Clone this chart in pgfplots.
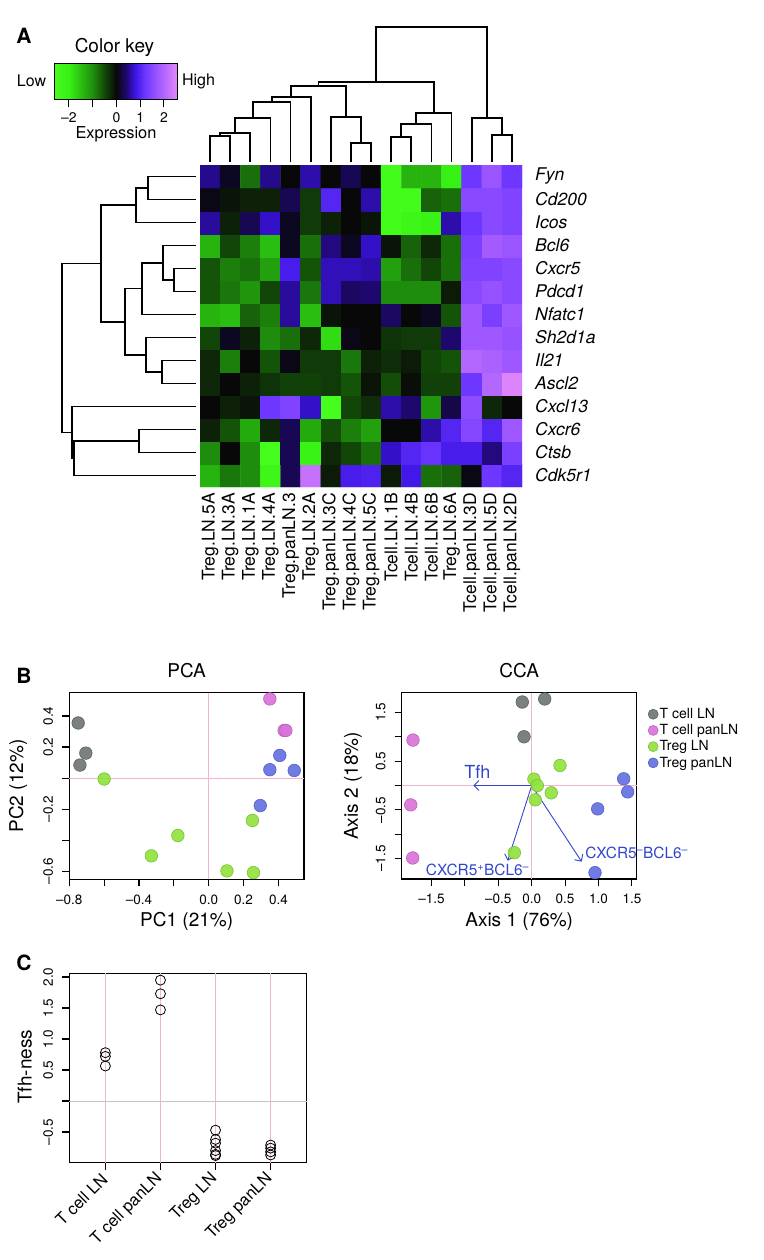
\documentclass[border=0pt]{standalone}
\usepackage{pgfplots}
\pgfplotsset{compat=1.18}
\usetikzlibrary{arrows.meta}
\usepackage{fontspec}
\setmainfont{TeX Gyre Heros}
\newcommand\fsz[1]{\fontsize{#1}{#1}\selectfont}

\definecolor{cgray}{RGB}{112,118,116}
\definecolor{cpink}{RGB}{218,115,218}
\definecolor{cgreen}{RGB}{145,226,62}
\definecolor{cblue}{RGB}{100,112,226}
\definecolor{arrowblue}{RGB}{50,70,205}
\definecolor{refpink}{RGB}{242,180,212}
\definecolor{refgray}{RGB}{190,200,200}

\pgfplotsset{
  colormap={gkp}{rgb255(0pt)=(70,255,30) rgb255(6.3pt)=(55,240,20) rgb255(16.3pt)=(30,140,12) rgb255(21.3pt)=(18,70,8) rgb255(26.3pt)=(8,8,8) rgb255(30.3pt)=(30,8,110) rgb255(34.3pt)=(60,20,230) rgb255(38.3pt)=(110,55,255) rgb255(43.3pt)=(155,85,255) rgb255(51.8pt)=(225,135,250)},
  rplot/.style={scale only axis, anchor=north west, tick align=outside,
    major tick length=7pt, xtick pos=left, ytick pos=left,
    axis line style={line width=1.1pt}, tick style={line width=1.1pt, black},
    tick label style={font={\fsz{13.5}}, inner sep=0pt},
    xticklabel shift=8pt, yticklabel shift=9pt,
    yticklabel style={rotate=90, anchor=south},
    label style={font={\fsz{19}}},
    title style={font={\fsz{19}}, anchor=center},
    /pgf/number format/assume math mode=true, clip=false},
  dots/.style={only marks, mark=*, mark size=6.3pt, mark options={fill=#1, draw=#1!85!black, fill opacity=0.92, line width=0.6pt}},
}

\begin{document}
\begin{tikzpicture}
\path[use as bounding box] (0pt,0pt) rectangle (763pt,-1260pt);

% ---------------- canvas: dendrograms and free text ----------------
\begin{axis}[at={(0pt,0pt)}, anchor=north west, scale only axis, width=763pt, height=1260pt,
  xmin=0, xmax=763, ymin=0, ymax=1260, y dir=reverse, hide axis, clip=false]
% column dendrogram
\addplot[black, line width=1.7pt, unbounded coords=jump] coordinates {
(210.06,162)(210.06,136)(230.19,136)(230.19,162)(nan,nan)
(220.1,136)(220.1,133)(250.31,133)(250.31,162)(nan,nan)
(235.2,133)(235.2,118)(270.44,118)(270.44,162)(nan,nan)
(252.8,118)(252.8,102)(290.56,102)(290.56,162)(nan,nan)
(271.7,102)(271.7,97)(310.69,97)(310.69,162)(nan,nan)
(350.94,162)(350.94,143)(371.06,143)(371.06,162)(nan,nan)
(330.81,162)(330.81,117)(361.0,117)(361.0,143)(nan,nan)
(291.2,97)(291.2,86)(345.9,86)(345.9,117)(nan,nan)
(391.19,162)(391.19,137)(411.31,137)(411.31,162)(nan,nan)
(401.25,137)(401.25,124)(431.44,124)(431.44,162)(nan,nan)
(416.3,124)(416.3,113)(451.56,113)(451.56,162)(nan,nan)
(318.6,86)(318.6,82)(433.9,82)(433.9,113)(nan,nan)
(491.81,162)(491.81,135)(511.94,135)(511.94,162)(nan,nan)
(471.69,162)(471.69,118)(501.9,118)(501.9,135)(nan,nan)
(376.3,82)(376.3,27)(486.8,27)(486.8,118)
};
% row dendrogram
\addplot[black, line width=1.7pt, unbounded coords=jump] coordinates {
(196,176.5)(148.3,176.5)(148.3,199.5)(196,199.5)(nan,nan)
(148.3,188)(136,188)(136,222.5)(196,222.5)(nan,nan)
(196,268.5)(174,268.5)(174,291.5)(196,291.5)(nan,nan)
(196,245.5)(163.3,245.5)(163.3,280)(174,280)(nan,nan)
(163.3,262.75)(141.7,262.75)(141.7,314.5)(196,314.5)(nan,nan)
(196,360.5)(161.7,360.5)(161.7,383.5)(196,383.5)(nan,nan)
(196,337.5)(146,337.5)(146,372)(161.7,372)(nan,nan)
(141.7,288.6)(125,288.6)(125,354.75)(146,354.75)(nan,nan)
(136,205.25)(100.7,205.25)(100.7,321.7)(125,321.7)(nan,nan)
(196,429.5)(139.3,429.5)(139.3,452.5)(196,452.5)(nan,nan)
(139.3,441)(74,441)(74,475.5)(196,475.5)(nan,nan)
(196,406.5)(72,406.5)(72,458.25)(74,458.25)(nan,nan)
(100.7,263.5)(61.7,263.5)(61.7,432.4)(72,432.4)
};
\node[font={\fsz{21}\bfseries}] at (axis cs:24,35.5) {A};
\node[font={\fsz{21}\bfseries}] at (axis cs:24,675.5) {B};
\node[font={\fsz{21}\bfseries}] at (axis cs:24,962.5) {C};
\node[font={\fsz{19}}] at (axis cs:114.5,47) {Color key};
\node[font={\fsz{16}}] at (axis cs:31.5,81) {Low};
\node[font={\fsz{16}}] at (axis cs:198.5,81) {High};
\node[font={\fsz{16.4}}] at (axis cs:116,134) {Expression};
\end{axis}

% ---------------- color key ----------------
\begin{axis}[at={(54pt,-63pt)}, anchor=north west, scale only axis, width=123pt, height=36pt,
  xmin=-2.63, xmax=2.55, ymin=0, ymax=1, colormap name=gkp, point meta min=-2.63, point meta max=2.55,
  ytick=\empty, xtick={-2,-1,0,1,2}, xticklabels={–2,,0,1,2}, xtick pos=left, tick align=outside,
  major tick length=8pt, tick style={line width=1pt, black}, axis line style={line width=0.8pt},
  tick label style={font={\fsz{14}}, inner sep=0pt}, xticklabel shift=5pt, axis on top,
  /pgf/number format/assume math mode=true]
\addplot[surf, shader=interp, point meta=x, mesh/cols=10] coordinates {
(-2.63,0)(-2,0)(-1,0)(-0.5,0)(0,0)(0.4,0)(0.8,0)(1.2,0)(1.7,0)(2.55,0)
(-2.63,1)(-2,1)(-1,1)(-0.5,1)(0,1)(0.4,1)(0.8,1)(1.2,1)(1.7,1)(2.55,1)};
\end{axis}

% ---------------- heatmap ----------------
\begin{axis}[at={(200pt,-165pt)}, anchor=north west, scale only axis, width=322pt, height=322pt,
  xmin=-0.5, xmax=15.5, ymin=-0.5, ymax=13.5, colormap name=gkp,
  point meta min=-2.63, point meta max=2.55,
  axis line style={draw=none}, tick style={draw=none}, major tick length=0pt,
  xtick={0,...,15}, ytick={0,...,13},
  xticklabels={Treg.LN.5A,Treg.LN.3A,Treg.LN.1A,Treg.LN.4A,Treg.panLN.3,Treg.LN.2A,Treg.panLN.3C,Treg.panLN.4C,Treg.panLN.5C,Tcell.LN.1B,Tcell.LN.4B,Tcell.LN.6B,Treg.LN.6A,Tcell.panLN.3D,Tcell.panLN.5D,Tcell.panLN.2D},
  yticklabels={Cdk5r1,Ctsb,Cxcr6,Cxcl13,Ascl2,Il21,Sh2d1a,Nfatc1,Pdcd1,Cxcr5,Bcl6,Icos,Cd200,Fyn},
  xticklabel style={rotate=90, anchor=east, font={\fsz{17.5}}, inner sep=0pt},
  xticklabel shift=6pt,
  yticklabel pos=right, yticklabel style={anchor=west, font={\fsz{17.5}\itshape}, inner sep=0pt},
  yticklabel shift=13pt]
\addplot[matrix plot*, mesh/cols=16, point meta=explicit] table[meta=c, row sep=\\] {
x y c\\
0 0 -1.4\\ 1 0 -0.85\\ 2 0 -1.0\\ 3 0 -2.3\\ 4 0 0.3\\ 5 0 2.2\\ 6 0 -0.15\\ 7 0 0.9\\ 8 0 0.95\\ 9 0 -0.15\\ 10 0 0.85\\ 11 0 -0.8\\ 12 0 -0.7\\ 13 0 0.05\\ 14 0 1.2\\ 15 0 1.0\\
0 1 -1.0\\ 1 1 0.0\\ 2 1 -1.0\\ 3 1 -2.6\\ 4 1 0.3\\ 5 1 -2.1\\ 6 1 -0.25\\ 7 1 -0.5\\ 8 1 -0.8\\ 9 1 0.7\\ 10 1 1.0\\ 11 1 1.15\\ 12 1 0.9\\ 13 1 0.9\\ 14 1 0.45\\ 15 1 1.35\\
0 2 -0.2\\ 1 2 -0.6\\ 2 2 -1.3\\ 3 2 -0.25\\ 4 2 0.3\\ 5 2 -1.3\\ 6 2 -0.55\\ 7 2 -0.9\\ 8 2 -1.2\\ 9 2 0.0\\ 10 2 0.0\\ 11 2 0.6\\ 12 2 1.0\\ 13 2 1.45\\ 14 2 1.0\\ 15 2 1.75\\
0 3 0.0\\ 1 3 -0.2\\ 2 3 -0.1\\ 3 3 1.2\\ 4 3 1.4\\ 5 3 0.7\\ 6 3 -2.6\\ 7 3 -0.5\\ 8 3 -0.3\\ 9 3 0.6\\ 10 3 0.4\\ 11 3 -1.1\\ 12 3 0.25\\ 13 3 1.55\\ 14 3 -0.25\\ 15 3 0.0\\
0 4 -0.25\\ 1 4 0.0\\ 2 4 -0.2\\ 3 4 -0.35\\ 4 4 -0.45\\ 5 4 -0.45\\ 6 4 -0.4\\ 7 4 -0.6\\ 8 4 -0.1\\ 9 4 -0.55\\ 10 4 -0.05\\ 11 4 -0.45\\ 12 4 -0.45\\ 13 4 1.2\\ 14 4 2.0\\ 15 4 2.5\\
0 5 -0.25\\ 1 5 -0.9\\ 2 5 0.0\\ 3 5 -0.6\\ 4 5 0.05\\ 5 5 -0.4\\ 6 5 -0.4\\ 7 5 -0.85\\ 8 5 -0.2\\ 9 5 -0.3\\ 10 5 -0.15\\ 11 5 -0.5\\ 12 5 -0.6\\ 13 5 2.0\\ 14 5 1.9\\ 15 5 1.75\\
0 6 -0.5\\ 1 6 0.1\\ 2 6 -0.2\\ 3 6 -1.0\\ 4 6 -0.8\\ 5 6 -0.25\\ 6 6 -1.8\\ 7 6 0.05\\ 8 6 0.0\\ 9 6 -0.35\\ 10 6 -0.4\\ 11 6 -0.4\\ 12 6 0.4\\ 13 6 1.75\\ 14 6 1.75\\ 15 6 1.65\\
0 7 -1.4\\ 1 7 -1.5\\ 2 7 -0.7\\ 3 7 -0.9\\ 4 7 0.55\\ 5 7 -1.5\\ 6 7 -0.1\\ 7 7 0.0\\ 8 7 0.0\\ 9 7 0.35\\ 10 7 0.0\\ 11 7 0.1\\ 12 7 -0.6\\ 13 7 1.75\\ 14 7 1.35\\ 15 7 1.75\\
0 8 -0.6\\ 1 8 -0.85\\ 2 8 -1.1\\ 3 8 -0.5\\ 4 8 0.55\\ 5 8 -0.85\\ 6 8 0.65\\ 7 8 0.35\\ 8 8 0.4\\ 9 8 -1.0\\ 10 8 -1.0\\ 11 8 -1.0\\ 12 8 -0.15\\ 13 8 1.5\\ 14 8 1.65\\ 15 8 1.5\\
0 9 -0.6\\ 1 9 -0.9\\ 2 9 -0.8\\ 3 9 -1.2\\ 4 9 0.9\\ 5 9 -0.6\\ 6 9 0.65\\ 7 9 0.65\\ 8 9 0.6\\ 9 9 -1.2\\ 10 9 -0.8\\ 11 9 -0.5\\ 12 9 -0.8\\ 13 9 1.4\\ 14 9 1.4\\ 15 9 1.5\\
0 10 -1.4\\ 1 10 -0.5\\ 2 10 -0.9\\ 3 10 -1.5\\ 4 10 0.1\\ 5 10 -0.8\\ 6 10 0.45\\ 7 10 0.1\\ 8 10 0.7\\ 9 10 -0.1\\ 10 10 -0.7\\ 11 10 -0.25\\ 12 10 -0.8\\ 13 10 1.35\\ 14 10 1.8\\ 15 10 1.7\\
0 11 0.55\\ 1 11 -0.2\\ 2 11 0.3\\ 3 11 0.7\\ 4 11 0.1\\ 5 11 -0.4\\ 6 11 -0.2\\ 7 11 0.0\\ 8 11 -0.1\\ 9 11 -2.5\\ 10 11 -2.3\\ 11 11 -2.1\\ 12 11 0.6\\ 13 11 1.2\\ 14 11 1.5\\ 15 11 1.4\\
0 12 0.05\\ 1 12 -0.1\\ 2 12 -0.2\\ 3 12 -0.2\\ 4 12 0.3\\ 5 12 -0.4\\ 6 12 1.0\\ 7 12 0.0\\ 8 12 0.6\\ 9 12 -2.5\\ 10 12 -2.5\\ 11 12 -0.7\\ 12 12 -0.8\\ 13 12 1.5\\ 14 12 1.5\\ 15 12 1.4\\
0 13 0.5\\ 1 13 0.1\\ 2 13 -0.8\\ 3 13 0.5\\ 4 13 0.0\\ 5 13 0.6\\ 6 13 0.0\\ 7 13 0.3\\ 8 13 0.0\\ 9 13 -2.5\\ 10 13 -1.4\\ 11 13 -1.4\\ 12 13 -2.0\\ 13 13 1.2\\ 14 13 1.7\\ 15 13 1.2\\
};
\end{axis}

% ---------------- PCA ----------------
\begin{axis}[rplot, at={(69.3pt,-692.7pt)}, width=234.7pt, height=186.6pt,
  xmin=-0.8, xmax=0.547, ymin=-0.652, ymax=0.55,
  xtick={-0.8,-0.6,-0.4,-0.2,0,0.2,0.4}, xticklabels={–0.8,,–0.4,,0.0,0.2,0.4},
  ytick={-0.6,-0.4,-0.2,0,0.2,0.4}, yticklabels={–0.6,,–0.2,,0.2,0.4},
  title={PCA}, title style={at={(axis description cs:0.5,1.086)}},
  xlabel={PC1 (21\%)}, xlabel style={at={(axis description cs:0.5,-0.2276)}, anchor=center},
  ylabel={PC2 (12\%)}, ylabel style={at={(axis description cs:-0.2186,0.5)}, anchor=center}]
\addplot[refpink, line width=1pt] coordinates {(0,-0.652)(0,0.55)};
\addplot[refpink, line width=1pt] coordinates {(-0.8,0)(0.547,0)};
\addplot[dots=cgray] coordinates {(-0.749,0.355)(-0.705,0.161)(-0.739,0.084)};
\addplot[dots=cpink] coordinates {(0.351,0.51)(0.433,0.307)(0.443,0.307)};
\addplot[dots=cgreen] coordinates {(-0.6,-0.006)(0.251,-0.273)(-0.177,-0.37)(-0.329,-0.501)(0.105,-0.598)(0.257,-0.609)};
\addplot[dots=cblue] coordinates {(0.408,0.146)(0.351,0.054)(0.491,0.049)(0.296,-0.177)};
\end{axis}

% ---------------- CCA ----------------
\begin{axis}[rplot, at={(401.7pt,-692.7pt)}, width=235pt, height=186.3pt,
  xmin=-1.946, xmax=1.572, ymin=-1.92, ymax=1.907,
  xtick={-1.5,-1,-0.5,0,0.5,1,1.5}, xticklabels={–1.5,,–0.5,0.0,0.5,1.0,1.5},
  ytick={-1.5,-1,-0.5,0,0.5,1,1.5}, yticklabels={–1.5,,–0.5,,0.5,,1.5},
  title={CCA}, title style={at={(axis description cs:0.5,1.086)}},
  xlabel={Axis 1 (76\%)}, xlabel style={at={(axis description cs:0.5,-0.226)}, anchor=center},
  ylabel={Axis 2 (18\%)}, ylabel style={at={(axis description cs:-0.207,0.5)}, anchor=center},
  legend style={at={(1.048,0.925)}, anchor=north west, draw=none, fill=none, font={\fsz{14}},
    row sep=1.5pt, inner sep=0pt, nodes={inner sep=1.5pt}},
  legend cell align=left,
  legend image code/.code={\draw[#1, mark size=5pt] plot coordinates {(0pt,0pt)};}]
\addplot[refpink, line width=1pt, forget plot] coordinates {(0,-1.92)(0,1.907)};
\addplot[refpink, line width=1pt, forget plot] coordinates {(-1.946,0)(1.572,0)};
\addplot[dots=cgray] coordinates {(-0.141,1.716)(0.195,1.778)(-0.115,1.002)};
\addlegendentry{T cell LN}
\addplot[dots=cpink] coordinates {(-1.777,0.934)(-1.811,-0.397)(-1.781,-1.488)};
\addlegendentry{T cell panLN}
\addplot[dots=cgreen] coordinates {(0.424,0.412)(0.034,0.132)(0.084,0.0)(0.293,-0.15)(0.054,-0.294)(-0.26,-1.379)};
\addlegendentry{Treg LN}
\addplot[dots=cblue] coordinates {(1.377,0.138)(1.437,-0.13)(0.988,-0.479)(0.948,-1.79)};
\addlegendentry{Treg panLN}
\addplot[arrowblue, line width=0.9pt, -{Straight Barb[length=5pt,width=10pt]}, forget plot] coordinates {(0,0)(-0.874,0)};
\addplot[arrowblue, line width=0.9pt, -{Straight Barb[length=5pt,width=10pt]}, forget plot] coordinates {(0,0)(-0.359,-1.543)};
\addplot[arrowblue, line width=0.9pt, -{Straight Barb[length=5pt,width=10pt]}, forget plot] coordinates {(0,0)(0.748,-1.564)};
\node[arrowblue, font={\fsz{18}}] at (axis cs:-0.814,0.276) {Tfh};
\node[arrowblue, font={\fsz{15.4}}] at (axis cs:-0.811,-1.735) {CXCR5\textsuperscript{+}BCL6\textsuperscript{–}};
\node[arrowblue, font={\fsz{15.4}}, anchor=west, inner sep=0pt] at (axis cs:0.799,-1.391) {CXCR5\textsuperscript{–}BCL6\textsuperscript{–}};
\end{axis}

% ---------------- C: Tfh-ness ----------------
\begin{axis}[rplot, at={(69.3pt,-973.3pt)}, width=237.4pt, height=189.4pt,
  xmin=0.345, xmax=4.655, ymin=-0.995, ymax=2.06,
  xtick={1,2,3,4}, xticklabels={T cell LN,T cell panLN,Treg LN,Treg panLN},
  xticklabel style={rotate=45, anchor=east, font={\fsz{16.5}}, inner sep=1pt},
  xticklabel shift=6pt,
  ytick={-0.5,0,0.5,1,1.5,2}, yticklabels={–0.5,,0.5,1.0,1.5,2.0},
  ylabel={Tfh-ness}, ylabel style={at={(axis description cs:-0.187,0.507)}, anchor=center}]
\addplot[refpink, line width=1pt, unbounded coords=jump] coordinates {(1,-0.995)(1,2.06)(nan,nan)(2,-0.995)(2,2.06)(nan,nan)(3,-0.995)(3,2.06)(nan,nan)(4,-0.995)(4,2.06)};
\addplot[refgray, line width=1pt] coordinates {(0.345,0)(4.655,0)};
\addplot[only marks, mark=o, mark size=5pt, black, line width=0.8pt] coordinates {(1,0.78)(1,0.72)(1,0.565)(2,1.95)(2,1.73)(2,1.47)(3,-0.47)(3,-0.62)(3,-0.68)(3,-0.8)(3,-0.86)(3,-0.88)(4,-0.71)(4,-0.76)(4,-0.82)(4,-0.87)};
\end{axis}
\end{tikzpicture}
\end{document}
